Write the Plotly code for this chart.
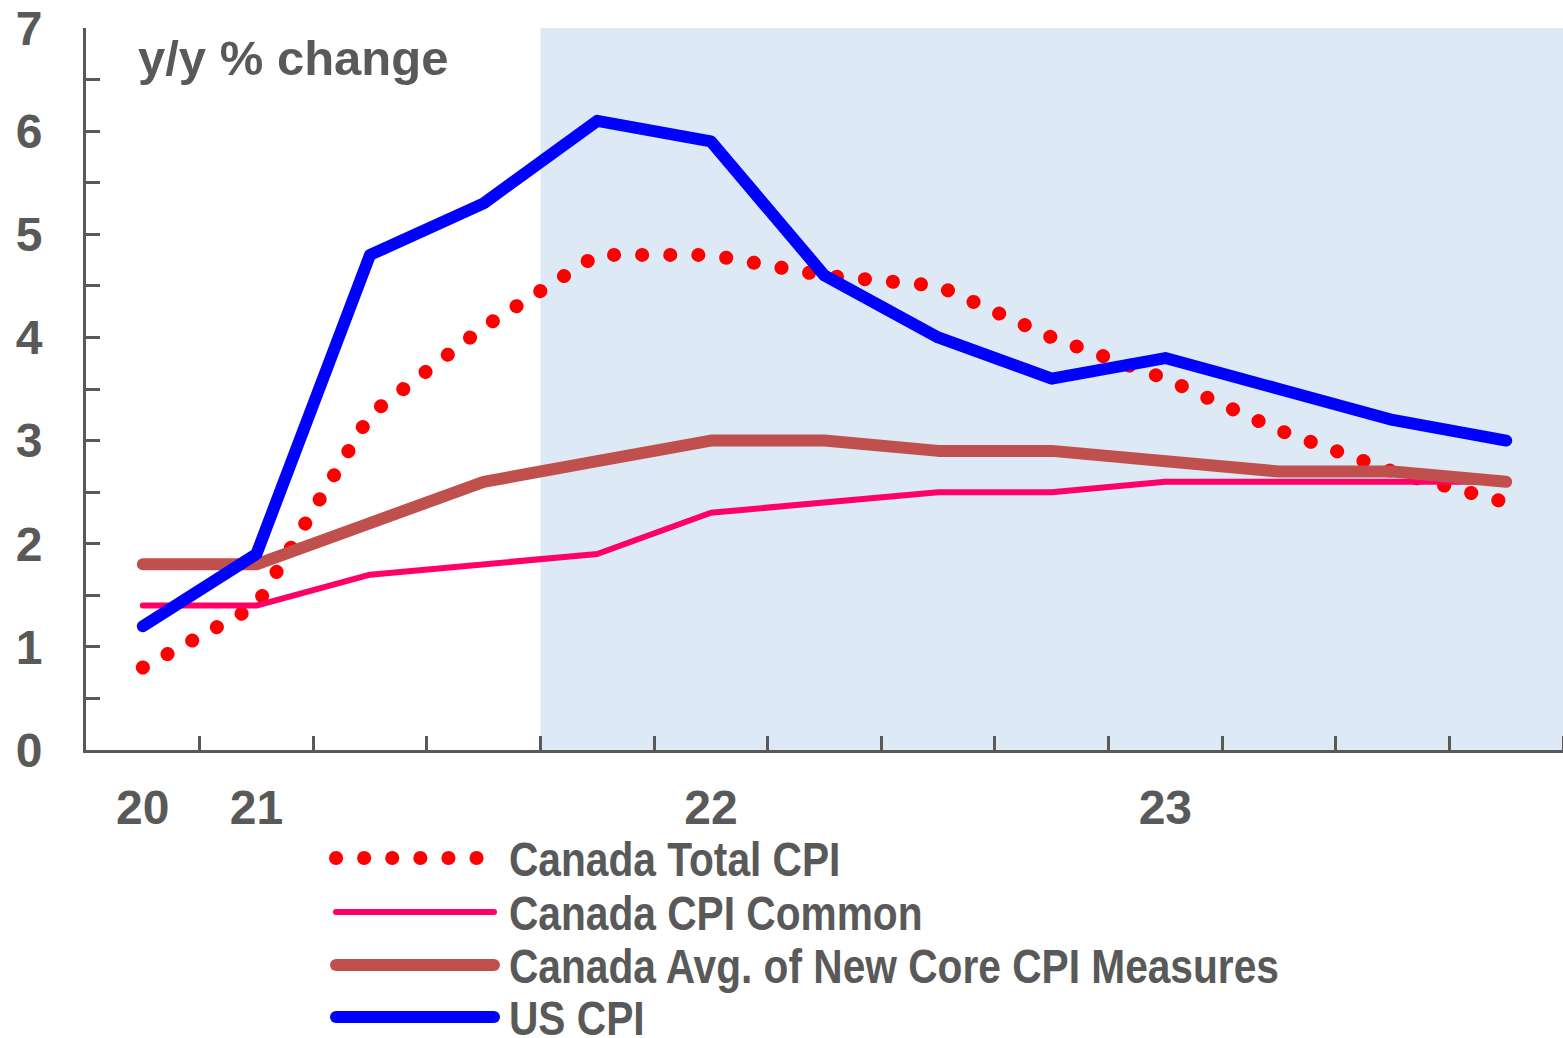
import plotly.graph_objects as go

# quarterly, Q4 2020 .. Q4 2023
quarters = ['2020Q4', '2021Q1', '2021Q2', '2021Q3', '2021Q4', '2022Q1', '2022Q2',
            '2022Q3', '2022Q4', '2023Q1', '2023Q2', '2023Q3', '2023Q4']
year_labels = ['20', '21', '22', '23']
year_label_quarters = ['2020Q4', '2021Q1', '2022Q1', '2023Q1']
forecast_from = '2021Q4'

canada_total = [0.8, 1.4, 3.25, 4.1, 4.8, 4.8, 4.6, 4.5, 4.0, 3.6, 3.1, 2.7, 2.4]
canada_common = [1.4, 1.4, 1.7, 1.8, 1.9, 2.3, 2.4, 2.5, 2.5, 2.6, 2.6, 2.6, 2.6]
canada_core_avg = [1.8, 1.8, 2.2, 2.6, 2.8, 3.0, 3.0, 2.9, 2.9, 2.8, 2.7, 2.7, 2.6]
us_cpi = [1.2, 1.9, 4.8, 5.3, 6.1, 5.9, 4.6, 4.0, 3.6, 3.8, 3.5, 3.2, 3.0]

series_names = ['Canada Total CPI', 'Canada CPI Common',
                'Canada Avg. of New Core CPI Measures', 'US CPI']

GREY = '#595959'
DOTS = '0.1px,28px'
styles = [
    dict(color='#FF0000', width=14, dash=DOTS),
    dict(color='#FF0066', width=6),
    dict(color='#C0504D', width=12),
    dict(color='#0000FF', width=12),
]

xi = list(range(len(quarters)))
fig = go.Figure()
for name, vals, st in zip(series_names,
                          [canada_total, canada_common, canada_core_avg, us_cpi],
                          styles):
    fig.add_trace(go.Scatter(x=xi, y=vals, mode='lines', name=name, line=st,
                             showlegend=False))

# shaded forecast area
fc = quarters.index(forecast_from) - 0.5
fig.add_vrect(x0=fc, x1=len(quarters) - 0.5, fillcolor='#DDE9F5', opacity=1,
              line_width=0, layer='below')

W, H = 1563, 1038
L, R, T, B = 86, 0, 28, 288
pw, ph = W - L - R, H - T - B


def px_x(x):
    return (x - L) / pw


def px_y(y):
    return (H - B - y) / ph


# hand-made legend (long line samples)
legend_rows = [858, 912, 965, 1017]
for name, st, ry in zip(series_names, styles, legend_rows):
    fig.add_shape(type='line', xref='paper', yref='paper',
                  x0=px_x(336), x1=px_x(494), y0=px_y(ry), y1=px_y(ry),
                  line=st)
    fig.add_annotation(text=name, xref='paper', yref='paper', align='left',
                       x=px_x(508), y=px_y(ry + 1), xanchor='left', yanchor='middle',
                       showarrow=False, borderpad=0,
                       font=dict(family='Liberation Sans, Arial', size=49,
                                 color=GREY, weight='bold'))

fig.add_annotation(text='y/y % change', xref='paper', yref='paper', align='left',
                   x=px_x(136), y=px_y(58), xanchor='left', yanchor='middle',
                   showarrow=False,
                   font=dict(family='Liberation Sans, Arial', size=49, color=GREY,
                             weight='bold'))

fig.update_layout(
    width=W, height=H,
    margin=dict(l=L, r=R, t=T, b=B),
    plot_bgcolor='white', paper_bgcolor='white',
    showlegend=False,
    font=dict(family='Liberation Sans, Arial', color=GREY),
)
fig.update_xaxes(
    range=[-0.5, len(quarters) - 0.5],
    tickvals=[quarters.index(q) for q in year_label_quarters],
    ticktext=year_labels,
    ticks='', showgrid=False, zeroline=False,
    showline=True, linecolor=GREY, linewidth=3,
    tickfont=dict(size=48, color=GREY, weight='bold'),
    ticklabelstandoff=13,
    minor=dict(tickvals=[i + 0.5 for i in xi], ticks='inside', ticklen=14,
               tickwidth=3, tickcolor=GREY, showgrid=False),
)
fig.update_yaxes(
    range=[0, 7], dtick=1, showgrid=False, zeroline=False,
    showline=True, linecolor=GREY, linewidth=3,
    ticks='inside', ticklen=14, tickwidth=3, tickcolor=GREY,
    minor=dict(dtick=0.5, ticks='inside', ticklen=14, tickwidth=3,
               tickcolor=GREY, showgrid=False),
    tickfont=dict(size=48, color=GREY, weight='bold'),
    ticklabelstandoff=31,
)

# round dots / caps, and narrow (Arial-Narrow-like) legend labels
post = """
document.body.style.margin = '0';
var gd = document.getElementById('{plot_id}');
var NARROW = %s;
function touchUp() {
  gd.querySelectorAll('.scatterlayer path.js-line, .shapelayer path').forEach(function (p) {
    p.style.strokeLinecap = 'round';
    p.style.strokeLinejoin = 'round';
  });
  gd.querySelectorAll('.annotation-text').forEach(function (t) {
    if (NARROW.indexOf(t.textContent) < 0) return;
    t.removeAttribute('textLength');
    var w = t.getComputedTextLength();
    t.setAttribute('lengthAdjust', 'spacingAndGlyphs');
    t.setAttribute('textLength', (w * 0.83).toFixed(1));
  });
}
touchUp();
gd.on('plotly_afterplot', touchUp);
""" % repr(series_names)

fig.write_html("out.html", post_script=post, config={'displayModeBar': False})
